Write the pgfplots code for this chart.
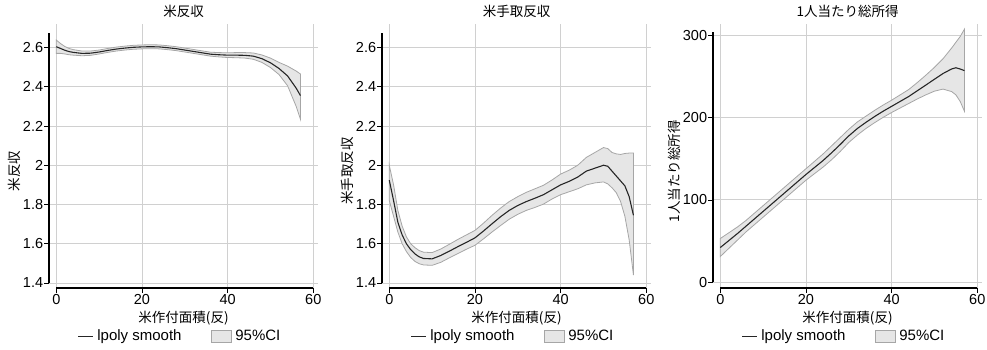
\documentclass[border=0pt]{standalone}
\usepackage{fontspec}
\setmainfont{Liberation Sans}
\newfontfamily\jp{Noto Sans CJK JP}
\usepackage{pgfplots}
\pgfplotsset{compat=1.18}
\usepackage{pgfplotstable}
\usepgfplotslibrary{fillbetween}
\definecolor{gridc}{HTML}{D0D0D0}
\definecolor{cifill}{HTML}{E6E6E6}
\definecolor{ciedge}{HTML}{A6A6A6}
\definecolor{linec}{HTML}{262626}

\pgfplotstableread{
x mid lo hi
0 2.604 2.570 2.638
1 2.595 2.570 2.620
2 2.586 2.567 2.605
3 2.579 2.563 2.595
4 2.575 2.561 2.589
6 2.570 2.558 2.582
8 2.571 2.560 2.582
10 2.577 2.567 2.587
12 2.585 2.575 2.595
14 2.592 2.582 2.602
16 2.597 2.587 2.607
18 2.601 2.591 2.611
20 2.603 2.593 2.613
22 2.604 2.594 2.614
24 2.603 2.593 2.613
26 2.599 2.589 2.609
28 2.594 2.584 2.604
30 2.587 2.577 2.597
32 2.580 2.570 2.590
34 2.573 2.563 2.583
36 2.566 2.556 2.576
38 2.563 2.552 2.574
40 2.561 2.549 2.573
42 2.561 2.548 2.574
44 2.560 2.546 2.574
46 2.556 2.540 2.572
48 2.543 2.524 2.562
50 2.522 2.498 2.546
52 2.493 2.462 2.524
54 2.455 2.405 2.505
56 2.393 2.300 2.480
57 2.355 2.235 2.465
}\tabA

\pgfplotstableread{
x mid lo hi
0 1.924 1.820 2.000
1 1.820 1.740 1.900
2 1.710 1.660 1.770
3 1.645 1.600 1.690
4 1.600 1.560 1.635
5 1.570 1.530 1.600
6 1.548 1.510 1.580
7 1.533 1.498 1.565
8 1.525 1.492 1.557
10 1.523 1.490 1.555
12 1.540 1.505 1.573
14 1.562 1.528 1.597
16 1.585 1.550 1.622
18 1.607 1.572 1.645
20 1.630 1.592 1.668
22 1.665 1.625 1.705
24 1.702 1.660 1.745
26 1.738 1.693 1.782
28 1.770 1.725 1.815
30 1.795 1.750 1.840
32 1.815 1.770 1.862
34 1.832 1.785 1.880
36 1.850 1.802 1.898
38 1.875 1.828 1.925
40 1.900 1.850 1.955
42 1.918 1.865 1.975
44 1.940 1.880 2.000
46 1.970 1.900 2.040
48 1.985 1.910 2.065
50 2.000 1.915 2.090
51 1.995 1.905 2.085
52 1.970 1.885 2.065
53 1.945 1.860 2.058
54 1.920 1.815 2.055
55 1.895 1.740 2.060
56 1.840 1.620 2.062
57 1.745 1.440 2.062
}\tabB

\pgfplotstableread{
x mid lo hi
0 42 31 53
2 50.5 41 60
4 59 51 67
6 68 61 75
8 77 70 84
10 86 79 93
12 95 88 102
14 104 97 111
16 113 106 120
18 122 115 129
20 131 124 138
22 139.5 132 147
24 148 140 156
26 157.5 149 166
28 167.5 159 176
30 178 170 186
32 187 179 195
34 194.5 187 202
36 201.5 194 209
38 208 200.5 215.5
40 214 206.5 221.5
42 220 212 228
44 226 217.5 234.5
46 233 223 243
48 240 228 252
50 247 232.5 261.5
52 254 235 272
54 259.5 232 285
55 261 228 292
56 259.5 220 299
57 257.5 208 308
}\tabC

\tikzset{
  ciarea/.style={fill=cifill, draw=ciedge, line width=0.8pt},
  mline/.style={linec, line width=1.1pt},
}

\pgfplotsset{
  panel/.style={
    scale only axis, width=269pt, height=264pt,
    xmin=-1.7, xmax=61.1,
    xtick={0,20,40,60},
    axis line style={draw=none},
    tick align=outside, xtick pos=bottom, ytick pos=left,
    major tick length=4.7pt,
    tick style={black, line width=0.8pt},
    grid=major, grid style={draw=gridc, line width=0.9pt},
    ticklabel style={font=\fontsize{14.5}{16}\selectfont, inner sep=1pt},
    /pgf/number format/assume math mode=true,
    clip=false,
    title style={at={(axis description cs:0.5,1.026)}, anchor=center, font=\jp\fontsize{13.5}{15}\selectfont, inner sep=0pt},
    xlabel style={at={(axis description cs:0.5,-0.113)}, anchor=center, font=\jp\fontsize{13.5}{15}\selectfont, inner sep=0pt},
    ylabel style={at={(ticklabel cs:0.443)}, font=\jp\fontsize{13.5}{15}\selectfont, inner sep=1pt},
    xlabel={米作付面積(反)},
    legend style={at={(axis description cs:0.49,-0.182)}, anchor=center, draw=none, fill=none,
      legend columns=2, font=\fontsize{15}{17}\selectfont, inner sep=0pt,
      nodes={inner xsep=3.5pt, inner ysep=1pt},
      /tikz/every even column/.append style={column sep=26pt}},
    legend cell align=left,
  },
}

\begin{document}
\begin{tikzpicture}

% Panel 1
\begin{axis}[panel, at={(49pt,61pt)}, anchor=south west,
  ymin=1.3745, ymax=2.7197,
  ytick={1.4,1.6,1.8,2,2.2,2.4,2.6},
  yticklabels={1.4,1.6,1.8,2,2.2,2.4,2.6},
  title={米反収}, ylabel={米反収}]
\addplot[draw=none, forget plot, name path=hiA] table[x=x, y=hi] {\tabA};
\addplot[draw=none, forget plot, name path=loA] table[x=x, y=lo] {\tabA};
\addplot[ciarea, forget plot] fill between[of=hiA and loA];
\addplot[mline, legend image code/.code={\draw[mline] (0pt,0pt) -- (15pt,0pt);}] table[x=x, y=mid] {\tabA};
\addlegendentry{lpoly smooth}
\addlegendimage{legend image code/.code={\draw[ciarea] (0pt,-6pt) rectangle (20pt,6pt);}}
\addlegendentry{95\%CI}
\draw[black, line width=1.2pt] (axis cs:0,1.3745) -- (axis cs:60,1.3745);
\draw[black, line width=1.2pt] (axis cs:-1.7,1.4) -- (axis cs:-1.7,2.675);
\end{axis}

% Panel 2
\begin{axis}[panel, at={(382pt,61pt)}, anchor=south west,
  ymin=1.3745, ymax=2.7197,
  ytick={1.4,1.6,1.8,2,2.2,2.4,2.6},
  yticklabels={1.4,1.6,1.8,2,2.2,2.4,2.6},
  title={米手取反収}, ylabel={米手取反収}]
\addplot[draw=none, forget plot, name path=hiB] table[x=x, y=hi] {\tabB};
\addplot[draw=none, forget plot, name path=loB] table[x=x, y=lo] {\tabB};
\addplot[ciarea, forget plot] fill between[of=hiB and loB];
\addplot[mline, legend image code/.code={\draw[mline] (0pt,0pt) -- (15pt,0pt);}] table[x=x, y=mid] {\tabB};
\addlegendentry{lpoly smooth}
\addlegendimage{legend image code/.code={\draw[ciarea] (0pt,-6pt) rectangle (20pt,6pt);}}
\addlegendentry{95\%CI}
\draw[black, line width=1.2pt] (axis cs:0,1.3745) -- (axis cs:60,1.3745);
\draw[black, line width=1.2pt] (axis cs:-1.7,1.4) -- (axis cs:-1.7,2.675);
\end{axis}

% Panel 3
\begin{axis}[panel, at={(713pt,61pt)}, anchor=south west,
  ymin=-7.3, ymax=314.3,
  ytick={0,100,200,300},
  title={1人当たり総所得}, ylabel={1人当たり総所得}]
\addplot[draw=none, forget plot, name path=hiC] table[x=x, y=hi] {\tabC};
\addplot[draw=none, forget plot, name path=loC] table[x=x, y=lo] {\tabC};
\addplot[ciarea, forget plot] fill between[of=hiC and loC];
\addplot[mline, legend image code/.code={\draw[mline] (0pt,0pt) -- (15pt,0pt);}] table[x=x, y=mid] {\tabC};
\addlegendentry{lpoly smooth}
\addlegendimage{legend image code/.code={\draw[ciarea] (0pt,-6pt) rectangle (20pt,6pt);}}
\addlegendentry{95\%CI}
\draw[black, line width=1.2pt] (axis cs:0,-7.3) -- (axis cs:60,-7.3);
\draw[black, line width=1.2pt] (axis cs:-1.7,0) -- (axis cs:-1.7,304.5);
\end{axis}

\pgfresetboundingbox
\path[use as bounding box] (0,0) rectangle (987pt,349pt);
\end{tikzpicture}
\end{document}
